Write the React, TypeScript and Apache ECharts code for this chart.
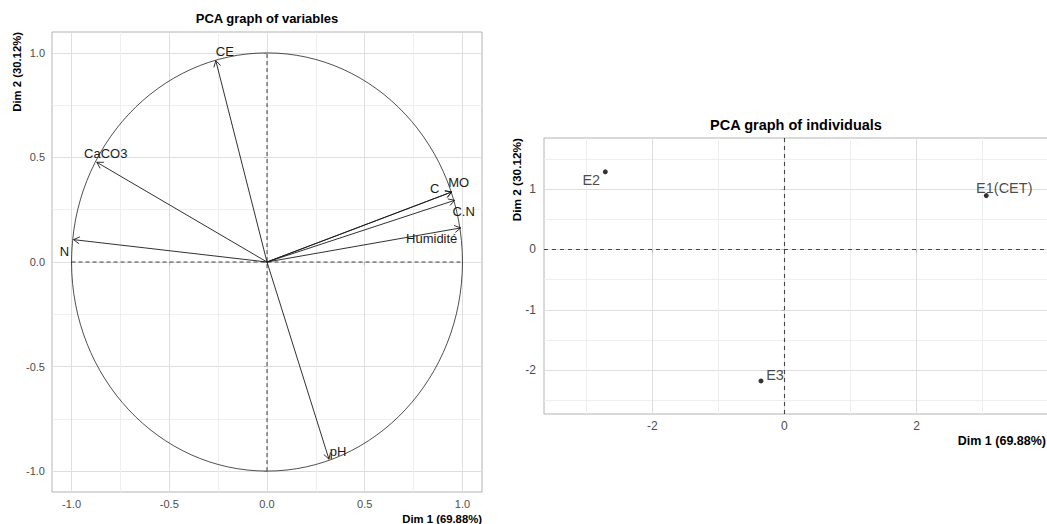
import React, { useEffect, useRef } from "react";
import * as echarts from "echarts";

// ---- Data: PCA graph of variables ----
const varNames = ["CE", "CaCO3", "N", "C", "MO", "C.N", "Humidité", "pH"];
const varDim1 = [-0.262, -0.871, -0.99, 0.945, 0.945, 0.96, 0.991, 0.317];
const varDim2 = [0.963, 0.477, 0.107, 0.335, 0.335, 0.295, 0.163, -0.943];
// label offsets in pixels relative to arrow tips
const varLabelOffsets = [
  [9, -9],
  [9, -9],
  [-9, 12],
  [-17, -3],
  [7, -9],
  [9, 11],
  [-29, 11],
  [9, -8],
];

// ---- Data: PCA graph of individuals ----
const indNames = ["E1(CET)", "E2", "E3"];
const indDim1 = [3.055, -2.712, -0.355];
const indDim2 = [0.892, 1.286, -2.176];
const indLabelOffsets = [
  [18, -8],
  [-14, 8],
  [14, -6],
];

// ---- Tick labels ----
const varTicks = [-1, -0.5, 0, 0.5, 1];
const indXTicks = [-2, 0, 2];
const indYTicks = [-2, -1, 0, 1];

const titleVar = "PCA graph of variables";
const titleInd = "PCA graph of individuals";
const dim1Label = "Dim 1 (69.88%)";
const dim2Label = "Dim 2 (30.12%)";

const FONT = "'Liberation Sans', Arial, Helvetica, sans-serif";
const GRID_MAJOR = "#DEDEDE";
const GRID_MINOR = "#EEEEEE";
const BORDER = "#B3B3B3";
const TICK_TEXT = "#4D4D4D";

function axisCommon(ticks: number[], fmt: (v: number) => string, fontSize: number, margin: number) {
  return {
    type: "value" as const,
    axisLine: { show: false },
    axisTick: {
      show: true,
      length: 3,
      customValues: ticks,
      lineStyle: { color: BORDER, width: 1 },
    },
    axisLabel: {
      show: true,
      customValues: ticks,
      formatter: (v: number) => fmt(v),
      color: TICK_TEXT,
      fontSize,
      fontFamily: FONT,
      margin,
    },
    splitLine: { show: true, lineStyle: { color: GRID_MAJOR, width: 1 } },
    minorTick: { show: false, splitNumber: 2 },
    minorSplitLine: { show: true, lineStyle: { color: GRID_MINOR, width: 1 } },
  };
}

export default function App() {
  const ref = useRef<HTMLDivElement>(null);

  useEffect(() => {
    if (!ref.current) return;
    const chart = echarts.init(ref.current, undefined, { renderer: "svg" });

    const varData = varDim1.map((x, i) => [x, varDim2[i]]);
    const indData = indNames.map((n, i) => ({
      name: n,
      value: [indDim1[i], indDim2[i]],
      label: { offset: indLabelOffsets[i] },
    }));

    const option: any = {
      animation: false,
      backgroundColor: "#ffffff",
      grid: [
        {
          left: 52,
          top: 32,
          width: 430,
          height: 460,
          show: true,
          borderColor: BORDER,
          borderWidth: 1,
          backgroundColor: "transparent",
        },
        {
          left: 544,
          top: 138,
          width: 510,
          height: 276,
          show: true,
          borderColor: BORDER,
          borderWidth: 1,
          backgroundColor: "transparent",
        },
      ],
      xAxis: [
        { ...axisCommon(varTicks, (v) => v.toFixed(1), 11, 6), gridIndex: 0, min: -1.1, max: 1.1 },
        { ...axisCommon(indXTicks, (v) => String(v), 12, 6), gridIndex: 1, min: -3.64, max: 4.08 },
      ],
      yAxis: [
        { ...axisCommon(varTicks, (v) => v.toFixed(1), 11, 7), gridIndex: 0, min: -1.1, max: 1.1 },
        { ...axisCommon(indYTicks, (v) => String(v), 12, 8), gridIndex: 1, min: -2.724, max: 1.846 },
      ],
      graphic: [
        {
          type: "text",
          x: 267,
          y: 18,
          style: {
            text: titleVar,
            align: "center",
            verticalAlign: "middle",
            fontSize: 13,
            fontWeight: "bold",
            fontFamily: FONT,
            fill: "#000",
          },
        },
        {
          type: "text",
          x: 796,
          y: 125,
          style: {
            text: titleInd,
            align: "center",
            verticalAlign: "middle",
            fontSize: 14.5,
            fontWeight: "bold",
            fontFamily: FONT,
            fill: "#000",
          },
        },
        {
          type: "text",
          x: 17,
          y: 32,
          rotation: Math.PI / 2,
          style: {
            text: dim2Label,
            align: "right",
            verticalAlign: "middle",
            fontSize: 11.3,
            fontWeight: "bold",
            fontFamily: FONT,
            fill: "#000",
          },
        },
        {
          type: "text",
          x: 482,
          y: 519,
          style: {
            text: dim1Label,
            align: "right",
            verticalAlign: "middle",
            fontSize: 11.3,
            fontWeight: "bold",
            fontFamily: FONT,
            fill: "#000",
          },
        },
        {
          type: "text",
          x: 517,
          y: 138,
          rotation: Math.PI / 2,
          style: {
            text: dim2Label,
            align: "right",
            verticalAlign: "middle",
            fontSize: 11.8,
            fontWeight: "bold",
            fontFamily: FONT,
            fill: "#000",
          },
        },
        {
          type: "text",
          x: 1046,
          y: 441,
          style: {
            text: dim1Label,
            align: "right",
            verticalAlign: "middle",
            fontSize: 12.5,
            fontWeight: "bold",
            fontFamily: FONT,
            fill: "#000",
          },
        },
      ],
      series: [
        // unit circle + dashed reference lines
        {
          type: "custom",
          xAxisIndex: 0,
          yAxisIndex: 0,
          data: [[0, 0]],
          encode: { x: 0, y: 1 },
          silent: true,
          z: 2,
          renderItem: (params: any, api: any) => {
            const c = api.coord([api.value(0), api.value(1)]);
            const s = api.size([1, 1]);
            const h1 = api.coord([-1, 0]);
            const h2 = api.coord([1, 0]);
            const v1 = api.coord([0, -1]);
            const v2 = api.coord([0, 1]);
            const dash = { stroke: "#111", lineWidth: 0.8, lineDash: [4, 3], fill: "none" };
            return {
              type: "group",
              children: [
                { type: "line", shape: { x1: h1[0], y1: h1[1], x2: h2[0], y2: h2[1] }, style: dash },
                { type: "line", shape: { x1: v1[0], y1: v1[1], x2: v2[0], y2: v2[1] }, style: dash },
                {
                  type: "ellipse",
                  shape: { cx: c[0], cy: c[1], rx: s[0], ry: s[1] },
                  style: { stroke: "#222", lineWidth: 0.8, fill: "none" },
                },
              ],
            };
          },
        },
        // variable arrows
        {
          type: "custom",
          xAxisIndex: 0,
          yAxisIndex: 0,
          data: varData,
          encode: { x: 0, y: 1 },
          silent: true,
          z: 3,
          renderItem: (params: any, api: any) => {
            const i = params.dataIndex;
            const tip = api.coord([api.value(0), api.value(1)]);
            const o = api.coord([0, 0]);
            const ang = Math.atan2(tip[1] - o[1], tip[0] - o[0]);
            const L = 7;
            const a = Math.PI / 6;
            const w1 = [tip[0] - L * Math.cos(ang - a), tip[1] - L * Math.sin(ang - a)];
            const w2 = [tip[0] - L * Math.cos(ang + a), tip[1] - L * Math.sin(ang + a)];
            const off = varLabelOffsets[i];
            const st = { stroke: "#1a1a1a", lineWidth: 0.9, fill: "none" };
            return {
              type: "group",
              children: [
                { type: "line", shape: { x1: o[0], y1: o[1], x2: tip[0], y2: tip[1] }, style: st },
                { type: "polyline", shape: { points: [w1, tip, w2] }, style: st },
                {
                  type: "text",
                  x: tip[0] + off[0],
                  y: tip[1] + off[1],
                  style: {
                    text: varNames[i],
                    align: "center",
                    verticalAlign: "middle",
                    fontSize: 13,
                    fontFamily: FONT,
                    fill: "#1a1a1a",
                  },
                },
              ],
            };
          },
        },
        // individuals
        {
          type: "scatter",
          xAxisIndex: 1,
          yAxisIndex: 1,
          data: indData,
          symbol: "circle",
          symbolSize: 5,
          itemStyle: { color: "#000" },
          silent: true,
          z: 3,
          label: {
            show: true,
            position: "inside",
            formatter: "{b}",
            fontSize: 14.5,
            fontFamily: FONT,
            color: "#1a1a1a",
          },
          markLine: {
            silent: true,
            symbol: ["none", "none"],
            label: { show: false },
            lineStyle: { color: "#444", width: 1.1, type: [4, 4] },
            data: [{ xAxis: 0 }, { yAxis: 0 }],
          },
        },
      ],
    };

    chart.setOption(option);
    return () => {
      chart.dispose();
    };
  }, []);

  return (
    <div
      ref={ref}
      style={{ position: "fixed", left: 0, top: 0, width: 1100, height: 524, background: "#fff" }}
    />
  );
}
